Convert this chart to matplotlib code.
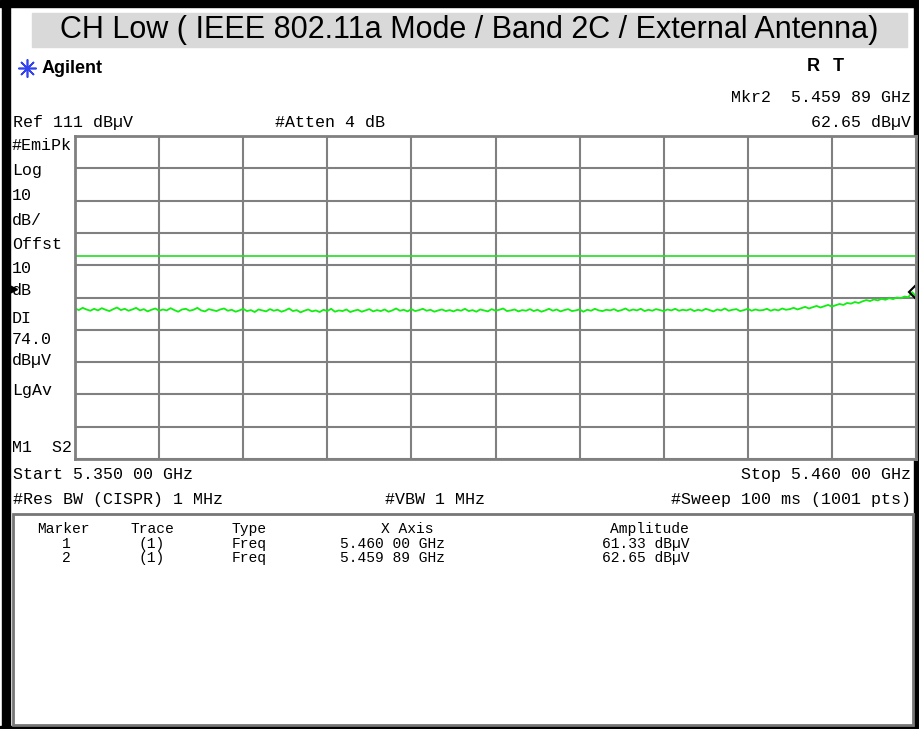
import matplotlib.pyplot as plt
import numpy as np
from matplotlib.patches import Rectangle

# ---- data ----
title = "CH Low ( IEEE 802.11a Mode / Band 2C / External Antenna)"
start_ghz = 5.350
stop_ghz = 5.460
ref_level = 111
db_per_div = 10
display_line = 74.0

# trace amplitude (dBuV), start -> stop
trace_dbuv = [
    57.6, 57.1, 57.8, 57.3, 56.9, 57.5, 57.0, 57.7, 57.2, 56.8, 57.4, 57.9, 57.1, 57.5, 56.9, 57.3, 57.8, 57.0, 57.4, 56.7,
    57.2, 57.6, 56.9, 57.3, 57.0, 57.7, 57.1, 56.6, 57.3, 57.5, 56.9, 57.2, 57.8, 57.0, 56.7, 57.4, 57.1, 56.8, 57.3, 57.6,
    56.9, 57.2, 56.6, 57.0, 57.5, 56.8, 57.1, 56.5, 57.3, 57.0, 56.7, 57.4, 56.9, 57.2, 56.6, 57.0, 57.6, 56.8, 57.1, 56.4,
    56.9, 57.3, 56.7, 57.0, 56.5, 57.2, 56.8, 57.5, 56.6, 57.0, 56.8, 57.3, 56.5, 56.9, 57.2, 56.6, 57.0, 57.4, 56.7, 57.1,
    56.8, 57.3, 56.6, 57.0, 57.6, 56.9, 57.2, 56.7, 57.4, 56.8, 57.1, 57.5, 56.9, 57.2, 56.6, 57.0, 57.3, 56.8, 57.1, 56.7,
    57.2, 56.9, 57.5, 56.8, 57.1, 56.6, 57.3, 57.0, 56.7, 57.4, 56.9, 57.2, 57.6, 56.8, 57.0, 57.3, 56.7, 57.1, 56.9, 57.4,
    56.8, 57.2, 56.6, 57.0, 57.5, 56.9, 57.3, 56.7, 57.1, 57.4, 56.8, 57.0, 57.3, 56.6, 57.2, 56.9, 57.5, 57.0, 56.8, 57.2,
    57.0, 57.4, 56.8, 57.1, 57.6, 56.9, 57.3, 57.0, 57.5, 56.8, 57.2, 56.9, 57.4, 57.1, 56.8, 57.3, 57.0, 57.5, 56.9, 57.2,
    57.0, 57.4, 56.8, 57.2, 56.9, 57.5, 57.1, 56.7, 57.3, 57.0, 57.6, 56.9, 57.2, 57.4, 56.8, 57.1, 57.5, 56.9, 57.3, 57.0,
    57.1, 57.5, 56.9, 57.3, 57.0, 57.6, 57.2, 57.4, 57.8, 57.3, 57.7, 58.1, 57.6, 58.0, 58.4, 57.9, 58.3, 58.7, 58.2, 58.6,
    59.0, 58.7, 59.3, 59.1, 59.6, 59.3, 59.8, 60.2, 59.9, 60.4, 60.1, 60.6, 60.3, 60.8, 60.5, 61.0, 60.8, 61.3, 61.1, 62.65, 61.33,
]

left_labels = ["#EmiPk", "Log", "10", "dB/", "Offst", "10", "dB", "DI", "74.0", "dBµV", "LgAv", "M1  S2"]
left_label_y = [145, 170, 195, 220, 244, 268, 290, 318, 339, 360, 390, 447]

marker_ids = [1, 2]
marker_traces = ["(1)", "(1)"]
marker_types = ["Freq", "Freq"]
marker_freqs = [5.46000, 5.45989]
marker_amps = [61.33, 62.65]

W, H = 919, 729
MONO = "Liberation Mono"
SANS = "Liberation Sans"


def ghz(f):
    s = f"{f:.5f}"
    return s[:5] + " " + s[5:] + " GHz"


fig = plt.figure(figsize=(W / 100, H / 100), dpi=100)

# background layer in pixel coordinates
bg = fig.add_axes([0, 0, 1, 1])
bg.set_xlim(0, W)
bg.set_ylim(H, 0)
bg.axis("off")

# outer black frame
bg.add_patch(Rectangle((0, 0), W, 7, color="black"))
bg.add_patch(Rectangle((2, 0), 8, H, color="black"))
bg.add_patch(Rectangle((914, 0), 5, H, color="black"))
bg.add_patch(Rectangle((0, 726), W, 3, color="black"))

# title band
bg.add_patch(Rectangle((32, 13), 875, 34, color="#d9d9d9"))
bg.text(469, 30, title, fontsize=22, family=SANS, ha="center", va="center")

# header
bg.plot([27], [68], marker=(8, 2, 0), ms=13, mew=1.2, color="#3344ee")
bg.text(42, 68, "Agilent", fontsize=13, family=SANS, weight="bold", va="center")
bg.text(813, 66, "R", fontsize=13, family=SANS, weight="bold", va="center", ha="center")
bg.text(838, 66, "T", fontsize=13, family=SANS, weight="bold", va="center", ha="center")
txt = dict(fontsize=12, family=MONO, va="center")
bg.text(911, 97, "Mkr2  " + ghz(marker_freqs[1]), ha="right", **txt)
bg.text(13, 122, f"Ref {ref_level} dBµV", ha="left", **txt)
bg.text(275, 122, "#Atten 4 dB", ha="left", **txt)
bg.text(911, 122, f"{marker_amps[1]:.2f} dBµV", ha="right", **txt)

for lab, y in zip(left_labels, left_label_y):
    bg.text(12, y, lab, ha="left", **txt)
bg.plot([13], [289], marker=">", ms=6, color="black")

# footer of the graticule
bg.text(13, 474, "Start " + ghz(start_ghz), ha="left", **txt)
bg.text(911, 474, "Stop " + ghz(stop_ghz), ha="right", **txt)
bg.text(13, 499, "#Res BW (CISPR) 1 MHz", ha="left", **txt)
bg.text(385, 499, "#VBW 1 MHz", ha="left", **txt)
bg.text(911, 499, "#Sweep 100 ms (1001 pts)", ha="right", **txt)

# marker table box
bg.add_patch(Rectangle((13, 514), 900, 211, fill=False, ec="#777777", lw=2))
tt = dict(fontsize=10.5, family=MONO, va="center")
bg.text(63, 529, "Marker", ha="center", **tt)
bg.text(152, 529, "Trace", ha="center", **tt)
bg.text(232, 529, "Type", ha="left", **tt)
bg.text(381, 529, "X Axis", ha="left", **tt)
bg.text(689, 529, "Amplitude", ha="right", **tt)
for i, y in enumerate([544, 558]):
    bg.text(66, y, str(marker_ids[i]), ha="center", **tt)
    bg.text(152, y, marker_traces[i], ha="center", **tt)
    bg.text(232, y, marker_types[i], ha="left", **tt)
    bg.text(340, y, ghz(marker_freqs[i]), ha="left", **tt)
    bg.text(689, y, f"{marker_amps[i]:.2f} dBµV", ha="right", **tt)

# graticule
x0, x1, y0, y1 = 75, 916, 136, 459
ax = fig.add_axes([x0 / W, 1 - y1 / H, (x1 - x0) / W, (y1 - y0) / H])
ax.set_xlim(start_ghz, stop_ghz)
ax.set_ylim(ref_level - 10 * db_per_div, ref_level)
ax.set_xticks(np.linspace(start_ghz, stop_ghz, 11))
ax.set_yticks(np.arange(ref_level - 10 * db_per_div, ref_level + 1, db_per_div))
ax.grid(True, color="#808080", lw=1.5)
ax.tick_params(length=0, labelbottom=False, labelleft=False)
for s in ax.spines.values():
    s.set_color("#808080")
    s.set_linewidth(2)

freqs = np.linspace(start_ghz, stop_ghz, len(trace_dbuv))
ax.axhline(display_line, color="#22dd22", lw=1.2)
ax.plot(freqs, trace_dbuv, color="#11ee11", lw=1.3)
ax.plot(marker_freqs[1], marker_amps[1], marker="D", ms=6, mfc="none", mec="black", mew=1.5, clip_on=False)
bg.text(911, 284, "2", fontsize=8, family=MONO, ha="center", va="center")

fig.savefig("out.png", dpi=100)
